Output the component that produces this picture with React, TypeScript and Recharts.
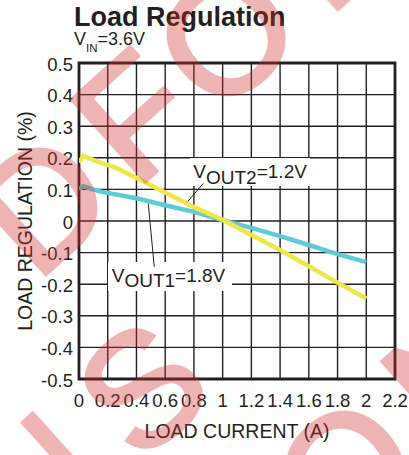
import React from "react";
import {
  LineChart,
  Line,
  XAxis,
  YAxis,
  CartesianGrid,
  ReferenceArea,
  ReferenceLine,
} from "recharts";

// ---- data ----
const xTicks = [0, 0.2, 0.4, 0.6, 0.8, 1, 1.2, 1.4, 1.6, 1.8, 2, 2.2];
const yTicks = [-0.5, -0.4, -0.3, -0.2, -0.1, 0, 0.1, 0.2, 0.3, 0.4, 0.5];

const vout2Current = [0, 0.03, 0.15, 0.26, 0.4, 0.6, 0.8, 1.0, 1.2, 1.4, 1.6, 1.8, 2.0];
const vout2Reg = [0.185, 0.205, 0.185, 0.168, 0.136, 0.09, 0.044, 0.004, -0.044, -0.092, -0.143, -0.195, -0.245];

const vout1Current = [0, 0.03, 0.15, 0.4, 0.6, 0.8, 1.0, 1.2, 1.4, 1.6, 1.8, 2.0];
const vout1Reg = [0.1, 0.11, 0.093, 0.072, 0.05, 0.029, 0.003, -0.022, -0.048, -0.076, -0.105, -0.13];

const vout2Data = vout2Current.map((x, i) => ({ x, y: vout2Reg[i] }));
const vout1Data = vout1Current.map((x, i) => ({ x, y: vout1Reg[i] }));

const FONT = "'Liberation Sans', Arial, Helvetica, sans-serif";

const XTick = (props: any) => {
  const { x, payload } = props;
  return (
    <text x={x} y={407} textAnchor="middle" fontSize={18.5} fontFamily={FONT} fill="#231f20">
      {payload.value}
    </text>
  );
};

const YTick = (props: any) => {
  const { x, y, payload } = props;
  return (
    <text x={x} y={y + 7.5} textAnchor="end" fontSize={18.5} fontFamily={FONT} fill="#231f20">
      {payload.value}
    </text>
  );
};

const SeriesLabel = (props: any) => {
  const { viewBox, sub, rest, dx, dy } = props;
  if (!viewBox) return null;
  return (
    <text x={viewBox.x + dx} y={viewBox.y + dy} fontSize={19} fontFamily={FONT} fill="#231f20">
      <tspan>V</tspan>
      <tspan dy={5.5}>{sub}</tspan>
      <tspan dy={-5.5}>{rest}</tspan>
    </text>
  );
};

const XLabel = (props: any) => {
  const { viewBox } = props;
  if (!viewBox) return null;
  return (
    <text x={viewBox.x + viewBox.width / 2} y={438} textAnchor="middle" fontSize={19.5} fontFamily={FONT} fill="#231f20">
      LOAD CURRENT (A)
    </text>
  );
};

const YLabel = (props: any) => {
  const { viewBox } = props;
  if (!viewBox) return null;
  const cx = 25;
  const cy = viewBox.y + viewBox.height / 2;
  return (
    <text
      x={cx}
      y={cy}
      transform={`rotate(-90 ${cx} ${cy})`}
      textAnchor="middle"
      dominantBaseline="central"
      fontSize={19.5}
      fontFamily={FONT}
      fill="#231f20"
    >
      LOAD REGULATION (%)
    </text>
  );
};

const wmLetters: { ch: string; x: number; y: number }[] = [
  { ch: "D", x: 42, y: 203 },
  { ch: "F", x: 135, y: 116 },
  { ch: "O", x: 226, y: 36 },
  { ch: "R", x: 334, y: -62 },
  { ch: "N", x: 36, y: 484 },
  { ch: "S", x: 142, y: 388 },
  { ch: "O", x: 345, y: 470 },
  { ch: "N", x: 452, y: 372 },
];

export default function App() {
  return (
    <div style={{ position: "absolute", left: 0, top: 0, width: 409, height: 455, background: "#fff" }}>
      <LineChart
        width={409}
        height={455}
        margin={{ top: 63, right: 14, bottom: 0, left: 0 }}
      >
        <CartesianGrid stroke="#231f20" strokeWidth={1.4} />
        <XAxis
          type="number"
          dataKey="x"
          domain={[0, 2.2]}
          ticks={xTicks}
          interval={0}
          allowDataOverflow
          height={76}
          tickSize={0}
          tickMargin={15}
          axisLine={false}
          tickLine={false}
          tick={<XTick />}
          label={<XLabel />}
        />
        <YAxis
          type="number"
          domain={[-0.5, 0.5]}
          ticks={yTicks}
          interval={0}
          allowDataOverflow
          width={79}
          tickSize={0}
          tickMargin={6}
          axisLine={false}
          tickLine={false}
          tick={<YTick />}
          label={<YLabel />}
        />
        <ReferenceArea
          x1={0.773}
          x2={1.608}
          y1={0.111}
          y2={0.199}
          fill="#ffffff"
          fillOpacity={1}
          stroke="none"
          label={<SeriesLabel sub="OUT2" rest="=1.2V" dx={3.3} dy={20.3} />}
        />
        <ReferenceArea
          x1={0.202}
          x2={1.065}
          y1={-0.2215}
          y2={-0.13}
          fill="#ffffff"
          fillOpacity={1}
          stroke="none"
          label={<SeriesLabel sub="OUT1" rest="=1.8V" dx={3.7} dy={19.7} />}
        />
        <ReferenceLine
          segment={[{ x: 0.75, y: 0.058 }, { x: 0.865, y: 0.119 }]}
          stroke="#231f20"
          strokeWidth={1}
        />
        <ReferenceLine
          segment={[{ x: 0.482, y: 0.056 }, { x: 0.524, y: -0.145 }]}
          stroke="#231f20"
          strokeWidth={1}
        />
        <Line
          data={vout1Data}
          dataKey="y"
          type="linear"
          stroke="#5ecbd6"
          strokeWidth={4.5}
          dot={false}
          isAnimationActive={false}
        />
        <Line
          data={vout2Data}
          dataKey="y"
          type="linear"
          stroke="#ece84a"
          strokeWidth={4.5}
          dot={false}
          isAnimationActive={false}
        />
        <ReferenceArea
          x1={0}
          x2={2.2}
          y1={-0.5}
          y2={0.5}
          fill="none"
          stroke="#231f20"
          strokeWidth={2.8}
        />
      </LineChart>
      <svg
        width={409}
        height={455}
        style={{ position: "absolute", left: 0, top: 0, pointerEvents: "none" }}
      >
        <text x={74} y={26} fontSize={27} fontWeight="bold" fontFamily={FONT} fill="#231f20">
          Load Regulation
        </text>
        <text x={74} y={45} fontSize={18} fontFamily={FONT} fill="#231f20">
          <tspan>V</tspan>
          <tspan dy={6.5} fontSize={11.5}>IN</tspan>
          <tspan dy={-6.5}>=3.6V</tspan>
        </text>
        <g fill="#d32f2f" stroke="#d32f2f" strokeWidth={4} strokeLinejoin="miter" opacity={0.36}>
          {wmLetters.map((l, i) => (
            <text
              key={i}
              transform={`translate(${l.x} ${l.y}) rotate(-42)`}
              textAnchor="middle"
              dominantBaseline="central"
              fontSize={160}
              fontFamily={FONT}
            >
              {l.ch}
            </text>
          ))}
        </g>
      </svg>
    </div>
  );
}
